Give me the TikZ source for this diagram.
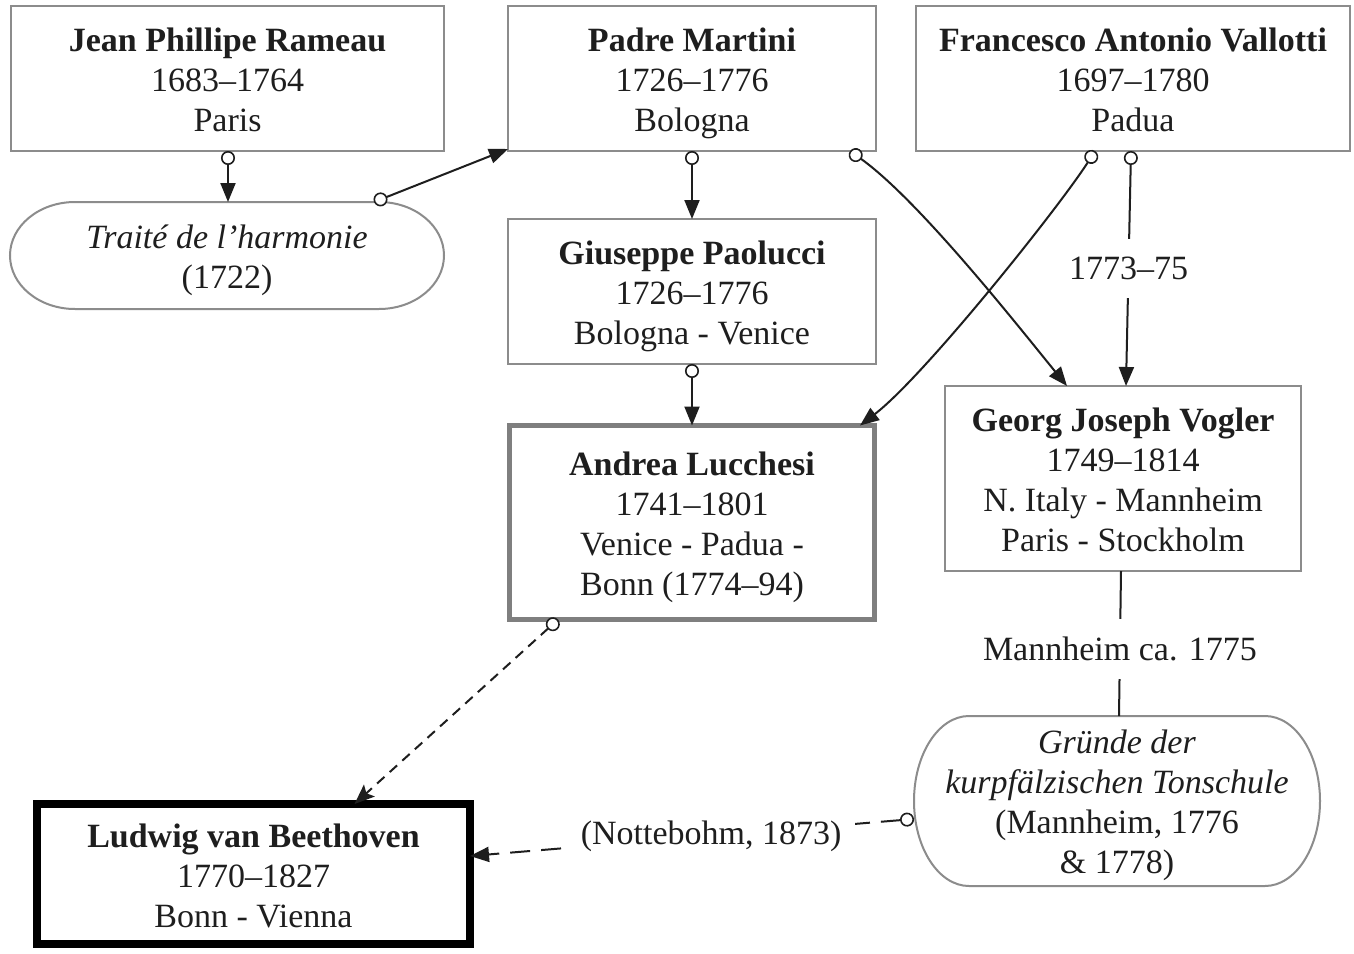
\documentclass[tikz,border=0pt]{standalone}
\usepackage{fontspec}
\setmainfont{Liberation Serif}
\usetikzlibrary{arrows.meta}
\definecolor{boxgray}{HTML}{8C8C8C}
\definecolor{thickgray}{HTML}{7F7F7F}
\definecolor{ink}{HTML}{1E1E1E}
\begin{document}
\begin{tikzpicture}[x=1pt,y=-1pt,
  every node/.style={font=\fontsize{34}{40}\selectfont, align=center, inner sep=0pt, outer sep=0pt, text=ink},
  txt/.style={execute at begin node=\strut, execute at end node=\strut},
  box/.style={draw=boxgray, line width=2pt},
  stadiumline/.style={draw=boxgray, line width=2pt},
  conn/.style={line width=2pt, draw=ink, {Circle[length=14pt,fill=white,line width=1.6pt]}-{Triangle[length=19pt,width=15pt]}},
  dconn/.style={line width=2pt, draw=ink, dash pattern=on 10pt off 7pt, {Circle[length=14pt,fill=white,line width=1.6pt]}-{Stealth[length=20pt,width=16pt,inset=4pt]}},
  dconnb/.style={line width=2pt, draw=ink, dash pattern=on 20pt off 11pt, {Circle[length=14pt,fill=white,line width=1.6pt]}-{Triangle[length=19pt,width=15pt]}},
  plainline/.style={line width=2pt, draw=ink},
  lbl/.style={fill=white, inner xsep=14pt, inner ysep=18pt}
]
\useasboundingbox (0,0) rectangle (1354,953);
\fill[white] (0,0) rectangle (1354,953);

% boxes
\node[box, minimum width=433pt, minimum height=145pt] (rameau) at (227.5,78.5) {};
\node[txt] (rameaut) at ([yshift=-7pt]rameau.center)
  {\textbf{Jean Phillipe Rameau}\\1683–1764\\Paris};
\node[box, minimum width=368pt, minimum height=145pt] (martini) at (692,78.5) {};
\node[txt] (martinit) at ([yshift=-7pt]martini.center)
  {\textbf{Padre Martini}\\1726–1776\\Bologna};
\node[box, minimum width=434pt, minimum height=145pt] (vallotti) at (1133,78.5) {};
\node[txt] (vallottit) at ([yshift=-7pt]vallotti.center)
  {\textbf{Francesco Antonio Vallotti}\\1697–1780\\Padua};
\node[box, minimum width=368pt, minimum height=145pt] (paolucci) at (692,291.5) {};
\node[txt] (paoluccit) at ([yshift=-7pt]paolucci.center)
  {\textbf{Giuseppe Paolucci}\\1726–1776\\Bologna - Venice};
\node[draw=thickgray, line width=5pt, minimum width=365pt, minimum height=194pt] (lucchesi) at (692,522.5) {};
\node[txt] (lucchesit) at ([yshift=-7pt]lucchesi.center)
  {\textbf{Andrea Lucchesi}\\1741–1801\\Venice - Padua -\\Bonn (1774–94)};
\node[box, minimum width=356pt, minimum height=185pt] (vogler) at (1123,478.5) {};
\node[txt] (voglert) at ([yshift=-7pt]vogler.center)
  {\textbf{Georg Joseph Vogler}\\1749–1814\\N. Italy - Mannheim\\Paris - Stockholm};
\node[draw=black, line width=8pt, minimum width=433pt, minimum height=140pt] (beethoven) at (253.5,874) {};
\node[txt] (beethovent) at ([yshift=-8pt]beethoven.center)
  {\textbf{Ludwig van Beethoven}\\1770–1827\\Bonn - Vienna};

% stadium-shaped nodes
\node[minimum width=434pt, minimum height=107pt] (traite) at (227,255.5) {};
\node[txt] (traitet) at ([yshift=-7pt]traite.center)
  {\textit{Traité de l’harmonie}\\(1722)};
\draw[stadiumline] ([xshift=65pt]traite.north west) -- ([xshift=-65pt]traite.north east)
  arc[start angle=90, end angle=-90, x radius=65pt, y radius=53.5pt]
  -- ([xshift=65pt]traite.south west)
  arc[start angle=-90, end angle=-270, x radius=65pt, y radius=53.5pt] -- cycle;

\node[minimum width=406pt, minimum height=170pt] (grunde) at (1117,801) {};
\node[txt] (grundet) at ([yshift=-7pt]grunde.center)
  {\textit{Gründe der}\\\textit{kurpfälzischen Tonschule}\\(Mannheim, 1776\\\& 1778)};
\draw[stadiumline] ([xshift=55pt]grunde.north west) -- ([xshift=-55pt]grunde.north east)
  arc[start angle=90, end angle=-90, x radius=55pt, y radius=85pt]
  -- ([xshift=55pt]grunde.south west)
  arc[start angle=-90, end angle=-270, x radius=55pt, y radius=85pt] -- cycle;

% connectors
\draw[conn] ([xshift=0.5pt]rameau.south) -- ([xshift=1pt]traite.north);
\draw[conn] ([xshift=147pt]traite.north) -- ([yshift=2pt]martini.south west);
\draw[conn] (martini.south) -- (paolucci.north);
\draw[conn] (paolucci.south) -- (lucchesi.north);
\draw[conn] ([xshift=158pt]martini.south) .. controls +(70,50) and +(-45,-55) .. ([xshift=-56pt]vogler.north);
\draw[conn] ([xshift=-38pt]vallotti.south) .. controls +(-35,55) and +(65,-50) .. ([xshift=168pt]lucchesi.north);
\draw[conn] ([xshift=-2pt]vallotti.south) -- node[lbl, pos=0.5] {1773–75} ([xshift=3pt]vogler.north);
\draw[plainline] ([xshift=-2pt]vogler.south) -- node[lbl, pos=0.54] {Mannheim ca. 1775} ([xshift=2pt]grunde.north);
\draw[dconn] ([xshift=-134pt]lucchesi.south) -- ([xshift=101pt]beethoven.north);
\draw[dconnb] ([yshift=-18pt]grunde.west) -- node[lbl, pos=0.457] {(Nottebohm, 1873)} ([yshift=18pt]beethoven.east);
\end{tikzpicture}
\end{document}
